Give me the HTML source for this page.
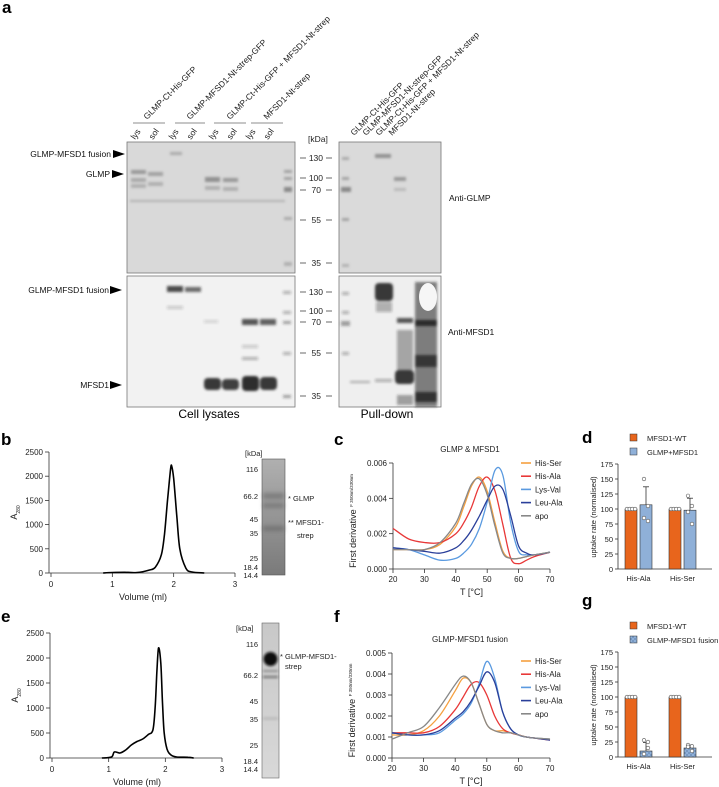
<!DOCTYPE html>
<html><head><meta charset="utf-8"><style>
html,body{margin:0;padding:0;background:#fff;}
svg{display:block;font-family:"Liberation Sans",sans-serif;}
</style></head><body>
<svg id="fig" width="719" height="787" viewBox="0 0 719 787" xmlns="http://www.w3.org/2000/svg">
<defs>
<filter id="blur1" x="-20%" y="-50%" width="140%" height="200%"><feGaussianBlur stdDeviation="1.2"/></filter>
<filter id="blur2" x="-20%" y="-50%" width="140%" height="200%"><feGaussianBlur stdDeviation="2"/></filter>
<linearGradient id="gelb" x1="0" y1="0" x2="0" y2="1"><stop offset="0" stop-color="#b0b0b0"/><stop offset="1" stop-color="#7a7a7a"/></linearGradient>
<linearGradient id="gele" x1="0" y1="0" x2="0" y2="1"><stop offset="0" stop-color="#c8c8c8"/><stop offset="1" stop-color="#d8d8d8"/></linearGradient>
<pattern id="dots" width="4" height="4" patternUnits="userSpaceOnUse"><rect width="4" height="4" fill="#8fb0d8"/><circle cx="1" cy="1" r="0.6" fill="#3c5c8a"/><circle cx="3" cy="3" r="0.6" fill="#3c5c8a"/></pattern>
</defs>

<!-- Panel a -->
<g>
<text x="2" y="13" font-size="17" font-weight="bold">a</text>
<g font-size="8.5" fill="#222">
<text transform="translate(147,120) rotate(-45)">GLMP-Ct-His-GFP</text>
<text transform="translate(190,120) rotate(-45)">GLMP-MFSD1-Nt-strep-GFP</text>
<text transform="translate(230,120) rotate(-45)">GLMP-Ct-His-GFP + MFSD1-Nt-strep</text>
<text transform="translate(267,120) rotate(-45)">MFSD1-Nt-strep</text>
<text transform="translate(354,136) rotate(-45)">GLMP-Ct-His-GFP</text>
<text transform="translate(366,136) rotate(-45)">GLMP-MFSD1-Nt-strep-GFP</text>
<text transform="translate(379,136) rotate(-45)">GLMP-Ct-His-GFP + MFSD1-Nt-strep</text>
<text transform="translate(392,136) rotate(-45)">MFSD1-Nt-strep</text>
</g>
<g stroke="#666" stroke-width="0.8">
<line x1="133" y1="123" x2="165" y2="123"/><line x1="175" y1="123" x2="205" y2="123"/><line x1="214" y1="123" x2="246" y2="123"/><line x1="251" y1="123" x2="283" y2="123"/>
</g>
<g font-size="8.5" fill="#222">
<text transform="translate(135,140) rotate(-55)">lys</text><text transform="translate(153,140) rotate(-55)">sol</text>
<text transform="translate(173,140) rotate(-55)">lys</text><text transform="translate(191,140) rotate(-55)">sol</text>
<text transform="translate(213,140) rotate(-55)">lys</text><text transform="translate(231,140) rotate(-55)">sol</text>
<text transform="translate(250,140) rotate(-55)">lys</text><text transform="translate(268,140) rotate(-55)">sol</text>
</g>
<!-- blots -->
<g>
<rect x="127" y="142" width="168" height="131" fill="#d9d9d9" stroke="#777" stroke-width="0.8"/>
<g filter="url(#blur1)" fill="#8a8a8a">
<rect x="131" y="170" width="15" height="4" opacity="0.8"/><rect x="131" y="178" width="15" height="4" opacity="0.6"/><rect x="131" y="184" width="15" height="4" opacity="0.5"/>
<rect x="148" y="172" width="15" height="4" opacity="0.7"/><rect x="148" y="182" width="15" height="4" opacity="0.5"/>
<rect x="170" y="152" width="12" height="3" opacity="0.6"/>
<rect x="205" y="177" width="15" height="5" opacity="0.9"/><rect x="205" y="186" width="15" height="4" opacity="0.5"/>
<rect x="223" y="178" width="15" height="4" opacity="0.8"/><rect x="223" y="187" width="15" height="4" opacity="0.5"/>
<rect x="130" y="200" width="155" height="2" opacity="0.5"/>
<rect x="284" y="170" width="8" height="3" opacity="0.7"/><rect x="284" y="177" width="8" height="3" opacity="0.7"/><rect x="284" y="187" width="8" height="5" opacity="1"/><rect x="284" y="217" width="8" height="3" opacity="0.6"/><rect x="284" y="262" width="8" height="4" opacity="0.5"/>
</g></g>
<g>
<rect x="127" y="276" width="168" height="131" fill="#f2f2f2" stroke="#777" stroke-width="0.8"/>
<g filter="url(#blur1)" fill="#222">
<rect x="167" y="286" width="16" height="6" opacity="0.8"/><rect x="185" y="287" width="16" height="5" opacity="0.65"/>
<rect x="167" y="306" width="16" height="3" opacity="0.2"/>
<rect x="204" y="320" width="14" height="3" opacity="0.15"/>
<rect x="242" y="319" width="16" height="6" opacity="0.75"/><rect x="260" y="319" width="16" height="6" opacity="0.7"/>
<rect x="242" y="345" width="16" height="3" opacity="0.2"/><rect x="242" y="357" width="16" height="3" opacity="0.3"/>
<rect x="204" y="378" width="17" height="12" opacity="0.9" rx="4"/><rect x="222" y="379" width="17" height="11" opacity="0.85" rx="4"/>
<rect x="242" y="376" width="17" height="15" opacity="0.95" rx="4"/><rect x="260" y="377" width="17" height="13" opacity="0.9" rx="4"/>
<rect x="283" y="291" width="8" height="3" opacity="0.3"/><rect x="283" y="311" width="8" height="3" opacity="0.3"/><rect x="283" y="321" width="8" height="3" opacity="0.4"/><rect x="283" y="352" width="8" height="3" opacity="0.3"/><rect x="283" y="395" width="8" height="3" opacity="0.4"/>
</g></g>
<g>
<rect x="339" y="142" width="102" height="131" fill="#dadada" stroke="#777" stroke-width="0.8"/>
<g filter="url(#blur1)" fill="#8a8a8a">
<rect x="342" y="157" width="7" height="3" opacity="0.6"/><rect x="342" y="177" width="7" height="3" opacity="0.7"/><rect x="341" y="187" width="10" height="5" opacity="1"/><rect x="342" y="218" width="7" height="3" opacity="0.7"/><rect x="342" y="264" width="7" height="3" opacity="0.5"/>
<rect x="375" y="154" width="16" height="4" opacity="0.9"/>
<rect x="394" y="177" width="12" height="4" opacity="0.8"/><rect x="394" y="188" width="12" height="3" opacity="0.4"/>
</g></g>
<g>
<rect x="339" y="276" width="102" height="131" fill="#efefef" stroke="#777" stroke-width="0.8"/>
<g filter="url(#blur1)" fill="#222">
<rect x="342" y="292" width="7" height="3" opacity="0.3"/><rect x="342" y="311" width="7" height="3" opacity="0.3"/><rect x="341" y="321" width="9" height="5" opacity="0.4"/><rect x="342" y="352" width="7" height="3" opacity="0.3"/>
<rect x="375" y="283" width="18" height="18" opacity="0.9" rx="4"/><rect x="376" y="302" width="16" height="10" opacity="0.3"/>
<rect x="350" y="381" width="20" height="2" opacity="0.3"/><rect x="375" y="379" width="17" height="3" opacity="0.3"/>
<rect x="397" y="318" width="16" height="5" opacity="0.75"/><rect x="397" y="330" width="16" height="40" opacity="0.35"/><rect x="395" y="370" width="19" height="14" opacity="0.9" rx="4"/><rect x="397" y="395" width="16" height="10" opacity="0.4"/>
<rect x="415" y="282" width="22" height="125" opacity="0.55"/><rect x="415" y="320" width="22" height="6" opacity="0.9"/><rect x="415" y="355" width="22" height="12" opacity="0.8"/><rect x="415" y="392" width="22" height="10" opacity="0.85"/>
</g>
<ellipse cx="428" cy="297" rx="9" ry="14" fill="#f6f6f6"/>
</g>
<!-- markers -->
<g font-size="8.5" fill="#222">
<text x="308" y="142">[kDa]</text>
<g text-anchor="end"><text x="323" y="161">130</text><text x="323" y="181">100</text><text x="321" y="193">70</text><text x="321" y="223">55</text><text x="321" y="266">35</text>
<text x="323" y="295">130</text><text x="323" y="314">100</text><text x="321" y="325">70</text><text x="321" y="356">55</text><text x="321" y="399">35</text></g>
<g stroke="#444" stroke-width="0.8">
<line x1="300" y1="158" x2="306" y2="158"/><line x1="326" y1="158" x2="332" y2="158"/>
<line x1="300" y1="178" x2="306" y2="178"/><line x1="326" y1="178" x2="332" y2="178"/>
<line x1="300" y1="190" x2="306" y2="190"/><line x1="326" y1="190" x2="332" y2="190"/>
<line x1="300" y1="220" x2="306" y2="220"/><line x1="326" y1="220" x2="332" y2="220"/>
<line x1="300" y1="263" x2="306" y2="263"/><line x1="326" y1="263" x2="332" y2="263"/>
<line x1="300" y1="292" x2="306" y2="292"/><line x1="326" y1="292" x2="332" y2="292"/>
<line x1="300" y1="311" x2="306" y2="311"/><line x1="326" y1="311" x2="332" y2="311"/>
<line x1="300" y1="322" x2="306" y2="322"/><line x1="326" y1="322" x2="332" y2="322"/>
<line x1="300" y1="353" x2="306" y2="353"/><line x1="326" y1="353" x2="332" y2="353"/>
<line x1="300" y1="396" x2="306" y2="396"/><line x1="326" y1="396" x2="332" y2="396"/>
</g></g>
<g font-size="8.5" fill="#111">
<text x="111" y="157" text-anchor="end">GLMP-MFSD1 fusion</text><polygon points="113,150 125,154 113,158" fill="#000"/>
<text x="110" y="177" text-anchor="end">GLMP</text><polygon points="112,170 124,174 112,178" fill="#000"/>
<text x="109" y="293" text-anchor="end">GLMP-MFSD1 fusion</text><polygon points="110,286 122,290 110,294" fill="#000"/>
<text x="109" y="388" text-anchor="end">MFSD1</text><polygon points="110,381 122,385 110,389" fill="#000"/>
<text x="449" y="201">Anti-GLMP</text><text x="448" y="335">Anti-MFSD1</text>
</g>
<text x="209" y="418" font-size="12" text-anchor="middle">Cell lysates</text>
<text x="387" y="418" font-size="12" text-anchor="middle">Pull-down</text>
</g>

<!-- panel letters -->
<g font-size="17" font-weight="bold">
<text x="1" y="445">b</text><text x="334" y="445">c</text><text x="582" y="443">d</text>
<text x="1" y="622">e</text><text x="334" y="622">f</text><text x="582" y="606">g</text>
</g>

<!-- Gels b / e -->
<g>
<rect x="262" y="459" width="23" height="116" fill="url(#gelb)" stroke="#555" stroke-width="0.6"/>
<g filter="url(#blur2)" fill="#666"><rect x="263" y="493" width="21" height="6" opacity="0.6"/><rect x="263" y="503" width="21" height="5" opacity="0.6"/><rect x="263" y="526" width="21" height="5" opacity="0.7"/></g>
<g font-size="7.5" fill="#222"><text x="245" y="456">[kDa]</text>
<g text-anchor="end"><text x="258" y="472">116</text><text x="258" y="499">66.2</text><text x="258" y="522">45</text><text x="258" y="536">35</text><text x="258" y="561">25</text><text x="258" y="570">18.4</text><text x="258" y="578">14.4</text></g>
<text x="288" y="501">* GLMP</text><text x="288" y="525">** MFSD1-</text><text x="297" y="538">strep</text></g>
</g>
<g>
<rect x="262" y="623" width="17" height="155" fill="url(#gele)" stroke="#666" stroke-width="0.6"/>
<g filter="url(#blur1)" fill="#111"><ellipse cx="270.5" cy="659" rx="7" ry="7"/><rect x="263" y="670" width="15" height="2" opacity="0.3"/><rect x="263" y="676" width="15" height="2" opacity="0.5"/><rect x="263" y="717" width="15" height="3" opacity="0.1"/></g>
<g font-size="7.5" fill="#222"><text x="236" y="631">[kDa]</text>
<g text-anchor="end"><text x="258" y="647">116</text><text x="258" y="678">66.2</text><text x="258" y="704">45</text><text x="258" y="722">35</text><text x="258" y="748">25</text><text x="258" y="764">18.4</text><text x="258" y="772">14.4</text></g>
<text x="280" y="659">* GLMP-MFSD1-</text><text x="285" y="669">strep</text></g>
</g>

<g id="charts"></g>
</svg>
<script>
// ---------- DATA ----------
const secVolB = [0.85,1.0,1.2,1.4,1.6,1.7,1.8,1.85,1.9,1.95,1.97,2.0,2.05,2.1,2.2,2.3,2.5];
const secAbsB = [0,10,15,10,60,120,380,800,1500,2150,2200,1950,1200,500,100,20,0];
const secVolE = [0.88,1.05,1.1,1.2,1.3,1.4,1.5,1.6,1.7,1.78,1.82,1.85,1.88,1.92,1.95,1.98,2.03,2.1,2.2,2.4,2.5];
const secAbsE = [0,20,120,100,160,260,330,380,470,560,1000,1700,2200,1900,1100,500,180,60,20,15,0];
const secTicksY = [0,500,1000,1500,2000,2500];
const secTicksX = [0,1,2,3];

const temps = [20,25,30,35,40,42.5,45,47.5,50,52.5,55,57.5,60,62.5,65,70];
const seriesNames = ["His-Ser","His-Ala","Lys-Val","Leu-Ala","apo"];
const seriesColors = ["#f5a040","#e83838","#5a9ae0","#2a3f9a","#888888"];
const cHisSer = [1.1,1.1,1.1,1.4,2.4,3.5,4.7,5.2,4.4,2.6,1.0,0.6,0.6,0.7,0.8,0.95];
const cHisAla = [2.3,1.7,1.5,1.5,2.0,2.6,3.5,4.7,5.2,4.4,2.5,0.6,0.3,0.5,0.7,0.95];
const cLysVal = [1.2,1.1,0.8,0.5,0.6,0.9,1.4,2.3,3.8,5.6,5.3,2.6,1.0,0.8,0.8,0.95];
const cLeuAla = [1.2,1.1,1.0,0.9,1.2,1.6,2.2,3.0,3.9,4.7,4.5,3.0,1.3,0.9,0.8,0.95];
const cApo    = [1.1,1.1,1.1,1.5,2.6,3.7,4.8,5.1,4.2,2.4,0.9,0.6,0.6,0.7,0.8,0.95];
const fHisSer = [1.1,1.1,1.3,2.0,3.2,3.8,3.6,2.6,1.6,1.3,1.3,1.2,1.1,1.0,0.95,0.9];
const fHisAla = [1.2,1.2,1.2,1.5,2.3,2.9,3.5,3.6,3.0,2.0,1.4,1.2,1.1,1.0,0.95,0.85];
const fLysVal = [1.2,1.1,1.1,1.2,1.8,2.1,2.6,3.5,4.6,3.8,2.2,1.4,1.1,1.0,0.95,0.9];
const fLeuAla = [1.2,1.1,1.1,1.3,1.9,2.2,2.7,3.4,4.1,3.6,2.2,1.4,1.1,1.0,0.95,0.85];
const fApo    = [0.9,1.2,1.5,2.4,3.5,3.9,3.6,2.6,1.6,1.3,1.2,1.2,1.1,1.0,0.95,0.9];
const cTicksY = ["0.000","0.002","0.004","0.006"];
const fTicksY = ["0.000","0.001","0.002","0.003","0.004","0.005"];
const tTicksX = [20,30,40,50,60,70];

const barCats = ["His-Ala","His-Ser"];
const dWT = [100,100];
const dCo = [107,98];
const dCoErr = [30,20];
const dWTpts = [[100,100,100,100],[100,100,100,100]];
const dCoPts = [[150,105,85,80],[122,105,95,75]];
const gWT = [100,100];
const gFu = [10,15];
const gFuErr = [14,5];
const gWTpts = [[100,100,100,100],[100,100,100,100]];
const gFuPts = [[28,25,5,15],[20,18,17,10]];
const barTicks = [0,25,50,75,100,125,150,175];

// ---------- HELPERS ----------
const NS="http://www.w3.org/2000/svg";
const root=document.getElementById('charts');
function mk(tag,attrs,parent){const e=document.createElementNS(NS,tag);for(const k in attrs)e.setAttribute(k,attrs[k]);(parent||root).appendChild(e);return e;}
function txt(x,y,s,size,anchor,parent,extra){const t=mk('text',Object.assign({x:x,y:y,'font-size':size,'text-anchor':anchor||'start',fill:'#222'},extra||{}),parent);t.textContent=s;return t;}
function lin(d0,d1,r0,r1){return v=>r0+(v-d0)/(d1-d0)*(r1-r0);}
function smoothPath(pts){let d='M'+pts[0][0]+','+pts[0][1];for(let i=0;i<pts.length-1;i++){const p0=pts[i-1]||pts[i],p1=pts[i],p2=pts[i+1],p3=pts[i+2]||p2;const c1x=p1[0]+(p2[0]-p0[0])/6,c1y=p1[1]+(p2[1]-p0[1])/6,c2x=p2[0]-(p3[0]-p1[0])/6,c2y=p2[1]-(p3[1]-p1[1])/6;d+=' C'+c1x.toFixed(1)+','+c1y.toFixed(1)+' '+c2x.toFixed(1)+','+c2y.toFixed(1)+' '+p2[0].toFixed(1)+','+p2[1].toFixed(1);}return d;}

// ---------- SEC charts ----------
function secChart(name,x0,x1,y0,y1,vols,abs){
  const g=mk('g',{});
  
  
  const sx=lin(0,3,x0,x1), sy=lin(0,2500,y0,y1);
  mk('line',{x1:x0-2,y1:y0,x2:x0-2,y2:y1,stroke:'#333','stroke-width':0.8},g);
  mk('line',{x1:x0-2,y1:y0,x2:x1,y2:y0,stroke:'#333','stroke-width':0.8},g);
  secTicksY.forEach(v=>{mk('line',{x1:x0-6,x2:x0-2,y1:sy(v),y2:sy(v),stroke:'#333','stroke-width':0.8},g);txt(x0-8,sy(v)+3,String(v),8,'end',g);});
  secTicksX.forEach(v=>{mk('line',{x1:sx(v),x2:sx(v),y1:y0,y2:y0+4,stroke:'#333','stroke-width':0.8},g);txt(sx(v),y0+14,String(v),8,'middle',g);});
  txt((x0+x1)/2,y0+27,'Volume (ml)',9,'middle',g);
  const yl=mk('text',{transform:'translate('+(x0-34)+','+((y0+y1)/2)+') rotate(-90)','font-size':9,'text-anchor':'middle',fill:'#222'},g);
  yl.innerHTML='A<tspan font-size="5" dy="3">280</tspan>';
  const pts=vols.map((v,i)=>[sx(v),sy(abs[i])]);
  const p=mk('path',{d:smoothPath(pts),fill:'none',stroke:'#000','stroke-width':1.6},g);
  
  
}
secChart('sec-chart-b',51,235,573,452,secVolB,secAbsB);
secChart('sec-chart-e',52,222,758,633,secVolE,secAbsE);

// ---------- thermal charts ----------
function tChart(name,title,x0,x1,y0,yTop,ymax,ticks,series,legY){
  const g=mk('g',{});
  
  
  const sx=lin(20,70,x0,x1), sy=lin(0,ymax,y0,yTop);
  mk('line',{x1:x0,y1:y0,x2:x0,y2:yTop,stroke:'#333','stroke-width':0.8},g);
  mk('line',{x1:x0,y1:y0,x2:x1,y2:y0,stroke:'#333','stroke-width':0.8},g);
  ticks.forEach(s=>{const v=parseFloat(s)*1000;mk('line',{x1:x0-4,x2:x0,y1:sy(v),y2:sy(v),stroke:'#333','stroke-width':0.8},g);txt(x0-6,sy(v)+3,s,8,'end',g);});
  tTicksX.forEach(v=>{mk('line',{x1:sx(v),x2:sx(v),y1:y0,y2:y0+4,stroke:'#333','stroke-width':0.8},g);txt(sx(v),y0+13,String(v),8,'middle',g);});
  txt((x0+x1)/2,y0+26,'T [°C]',9,'middle',g);
  txt(470,yTop-11,title,8,'middle',g);
  const yl=mk('text',{transform:'translate('+(x0-37)+','+((y0+yTop)/2+5)+') rotate(-90)','font-size':9,'text-anchor':'middle',fill:'#222'},g);
  yl.innerHTML='First derivative <tspan font-size="4.5" dy="-3">F 350nm/330nm</tspan>';
  series.forEach((vals,k)=>{
    const p=mk('path',{d:smoothPath(temps.map((t,i)=>[sx(t),sy(vals[i])])),fill:'none',stroke:seriesColors[k],'stroke-width':1.3},g);
    
    
    const ly=legY+k*13.2;
    mk('line',{x1:521,x2:531,y1:ly,y2:ly,stroke:seriesColors[k],'stroke-width':1.6},g);
    const lt=txt(535,ly+3,seriesNames[k],8,'start',g);
    
    
  });
}
tChart('thermal-chart-c','GLMP & MFSD1',393,550,569,463,6,cTicksY,[cHisSer,cHisAla,cLysVal,cLeuAla,cApo],463);
tChart('thermal-chart-f','GLMP-MFSD1 fusion',392,550,758,653,5,fTicksY,[fHisSer,fHisAla,fLysVal,fLeuAla,fApo],661);

// ---------- bar charts ----------
function barChart(name,y0,wt,co,coErr,wtPts,coPts,coFill,legY,legLabel){
  const g=mk('g',{});
  
  
  const x0=618, sy=lin(0,175,y0,y0-105);
  mk('line',{x1:x0,y1:y0,x2:x0,y2:sy(175),stroke:'#333','stroke-width':0.8},g);
  mk('line',{x1:x0,y1:y0,x2:712,y2:y0,stroke:'#333','stroke-width':0.8},g);
  barTicks.forEach(v=>{mk('line',{x1:x0-3,x2:x0,y1:sy(v),y2:sy(v),stroke:'#333','stroke-width':0.8},g);txt(x0-5,sy(v)+3,String(v),7.5,'end',g);});
  const yl=mk('text',{transform:'translate(596,'+(y0-52)+') rotate(-90)','font-size':7.5,'text-anchor':'middle',fill:'#222'},g);
  yl.textContent='uptake rate (normalised)';
  barCats.forEach((c,i)=>{
    const bx=625+i*44;
    const b1=mk('rect',{x:bx,y:sy(wt[i]),width:12,height:y0-sy(wt[i]),fill:'#e8651c',stroke:'#333','stroke-width':0.6},g);
    
    
    const b2=mk('rect',{x:bx+15,y:sy(co[i]),width:12,height:y0-sy(co[i]),fill:coFill,stroke:'#333','stroke-width':0.6},g);
    
    
    const ex=bx+21, et=sy(co[i]+coErr[i]);
    mk('line',{x1:ex,x2:ex,y1:sy(co[i]),y2:et,stroke:'#333','stroke-width':0.8},g);
    mk('line',{x1:ex-3,x2:ex+3,y1:et,y2:et,stroke:'#333','stroke-width':0.8},g);
    wtPts[i].forEach((v,j)=>mk('circle',{cx:bx+2+j*2.7,cy:sy(v),r:1.8,fill:'#fff',stroke:'#555','stroke-width':0.6},g));
    coPts[i].forEach((v,j)=>mk('circle',{cx:bx+19+(j%2)*4,cy:sy(v),r:1.8,fill:'#fff',stroke:'#555','stroke-width':0.6},g));
    txt(bx+13.5,y0+12,c,7.5,'middle',g);
  });
  mk('rect',{x:630,y:legY-4,width:7,height:7,fill:'#e8651c',stroke:'#333','stroke-width':0.5},g);
  txt(647,legY+3,'MFSD1-WT',7.5,'start',g);
  mk('rect',{x:630,y:legY+10,width:7,height:7,fill:coFill,stroke:'#333','stroke-width':0.5},g);
  txt(647,legY+17,legLabel,7.5,'start',g);
}
barChart('bar-chart-d',569,dWT,dCo,dCoErr,dWTpts,dCoPts,'#8fb0d8',438,'GLMP+MFSD1');
barChart('bar-chart-g',757,gWT,gFu,gFuErr,gWTpts,gFuPts,'url(#dots)',626,'GLMP-MFSD1 fusion');
</script>
</body></html>
